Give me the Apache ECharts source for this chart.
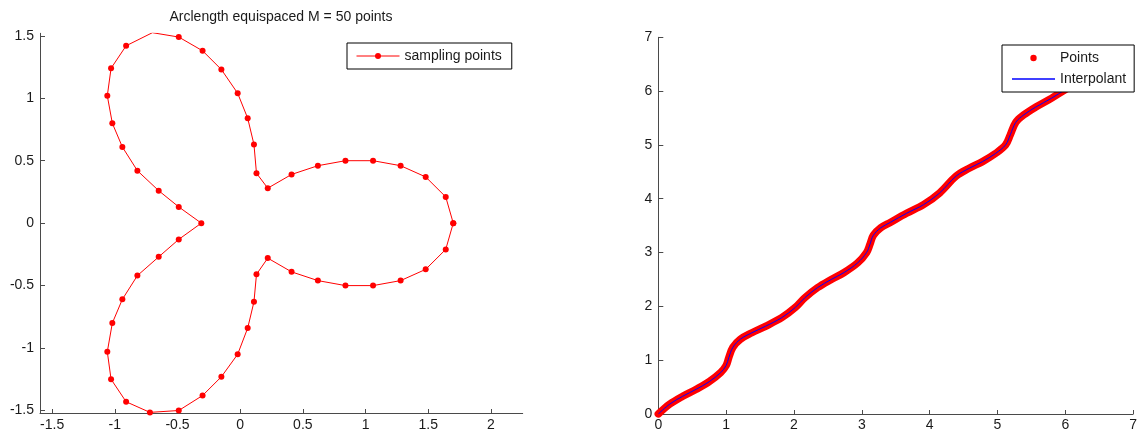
<!DOCTYPE html>
<html>
<head>
<meta charset="utf-8">
<style>
  html, body { margin: 0; padding: 0; background: #fff; }
  #chart { width: 1140px; height: 432px; }
</style>
<script src="https://cdn.jsdelivr.net/npm/echarts@6/dist/echarts.min.js"></script>
</head>
<body>
<div id="chart"></div>
<script>
// Trefoil curve sampled at 50 arclength-equispaced points (last entry closes the loop)
const curveX = [1.70, 1.64, 1.48, 1.28, 1.06, 0.84, 0.62, 0.41, 0.22, 0.13,
                0.11, 0.06, -0.02, -0.15, -0.30, -0.49, -0.70, -0.91, -1.03, -1.06,
                -1.02, -0.94, -0.82, -0.65, -0.49, -0.31, -0.49, -0.65, -0.82, -0.94,
                -1.02, -1.06, -1.03, -0.91, -0.72, -0.49, -0.30, -0.15, -0.02, 0.06,
                0.11, 0.13, 0.22, 0.41, 0.62, 0.84, 1.06, 1.28, 1.48, 1.64, 1.70];
const curveY = [0.00, 0.21, 0.37, 0.46, 0.50, 0.50, 0.46, 0.39, 0.28, 0.40,
                0.63, 0.84, 1.04, 1.23, 1.38, 1.49, 1.525, 1.42, 1.24, 1.02,
                0.80, 0.61, 0.42, 0.26, 0.13, 0.00, -0.13, -0.27, -0.42, -0.61,
                -0.80, -1.03, -1.25, -1.43, -1.515, -1.50, -1.38, -1.23, -1.05, -0.84,
                -0.63, -0.41, -0.28, -0.39, -0.46, -0.50, -0.50, -0.46, -0.37, -0.21, 0.00];

// Parameter versus normalised arclength
const paramS = [0.00, 0.17, 0.36, 0.56, 0.75, 0.92, 1.00, 1.04, 1.10, 1.21,
                1.38, 1.58, 1.82, 2.02, 2.16, 2.35, 2.55, 2.74, 2.94, 3.07,
                3.12, 3.17, 3.28, 3.42, 3.66, 3.91, 4.15, 4.39, 4.59, 4.78,
                4.97, 5.12, 5.19, 5.27, 5.39, 5.56, 5.80, 5.99, 6.14, 6.28];
const paramT = [0.00, 0.185, 0.33, 0.46, 0.60, 0.77, 0.90, 1.05, 1.24, 1.39,
                1.51, 1.63, 1.79, 1.98, 2.16, 2.35, 2.50, 2.63, 2.81, 3.00,
                3.15, 3.32, 3.46, 3.56, 3.73, 3.89, 4.11, 4.42, 4.57, 4.69,
                4.84, 5.00, 5.19, 5.42, 5.56, 5.70, 5.87, 6.02, 6.13, 6.28];

// Tick labels
const leftXTicks = [-1.5, -1, -0.5, 0, 0.5, 1, 1.5, 2];
const leftYTicks = [-1.5, -1, -0.5, 0, 0.5, 1, 1.5];
const rightTicks = [0, 1, 2, 3, 4, 5, 6, 7];

const titleText = 'Arclength equispaced M = 50 points';
const seriesNames = ['sampling points', 'Points', 'Interpolant'];

const FONT = "'Liberation Sans', Arial, Helvetica, sans-serif";
const AXIS_COLOR = '#4a4a4a';
const TEXT_COLOR = '#1a1a1a';

function pairs(xs, ys) {
  return xs.map((x, i) => [x, ys[i]]);
}

function axis(grid, min, max, ticks, tickLen, labelMargin) {
  return {
    type: 'value',
    gridIndex: grid,
    min: min,
    max: max,
    splitLine: { show: false },
    axisLine: { show: true, onZero: false, lineStyle: { color: AXIS_COLOR, width: 1 } },
    axisTick: { show: true, inside: true, length: tickLen, customValues: ticks,
                lineStyle: { color: AXIS_COLOR, width: 1 } },
    axisLabel: { show: true, customValues: ticks, margin: labelMargin,
                 color: TEXT_COLOR, fontSize: 14, fontFamily: FONT,
                 showMinLabel: true, showMaxLabel: true },
    axisPointer: { show: false }
  };
}

const legendBase = {
  orient: 'vertical',
  itemWidth: 43,
  itemGap: 7,
  backgroundColor: '#ffffff',
  borderColor: '#000000',
  borderWidth: 1,
  borderRadius: 0,
  textStyle: { fontSize: 14, color: TEXT_COLOR, fontFamily: FONT },
  selectedMode: false
};

const chart = echarts.init(document.getElementById('chart'), null, { renderer: 'canvas' });

chart.setOption({
  animation: false,
  backgroundColor: '#ffffff',
  textStyle: { fontFamily: FONT },
  title: {
    text: titleText,
    left: 281,
    top: 10,
    padding: 0,
    textAlign: 'center',
    textStyle: { fontSize: 14, fontWeight: 'normal', color: TEXT_COLOR, fontFamily: FONT }
  },
  grid: [
    { left: 40, right: 617.3, top: 33.3, bottom: 18.3, containLabel: false },
    { left: 658.3, right: 1, top: 37.3, bottom: 17, containLabel: false }
  ],
  xAxis: [
    axis(0, -1.597, 2.254, leftXTicks, 4, 5),
    axis(1, 0, 7, rightTicks, 4, 4)
  ],
  yAxis: [
    axis(0, -1.52, 1.52, leftYTicks, 5, 6),
    axis(1, 0, 7, rightTicks, 5, 6)
  ],
  legend: [
    Object.assign({}, legendBase, {
      data: [{ name: seriesNames[0], lineStyle: { width: 1 } }],
      left: 347,
      top: 43,
      padding: [6, 10, 6, 9],
      itemHeight: 7.5
    }),
    Object.assign({}, legendBase, {
      data: [
        { name: seriesNames[1], lineStyle: { opacity: 0 } },
        { name: seriesNames[2], lineStyle: { width: 1.3, color: '#0000ff' },
          itemStyle: { color: 'rgba(0,0,0,0)' } }
      ],
      left: 1002,
      top: 45,
      padding: [6, 8, 6, 9],
      itemHeight: 8
    })
  ],
  series: [
    {
      name: seriesNames[0],
      type: 'line',
      xAxisIndex: 0,
      yAxisIndex: 0,
      data: pairs(curveX, curveY),
      symbol: 'circle',
      symbolSize: 6,
      showAllSymbol: true,
      clip: true,
      itemStyle: { color: '#ff0000' },
      lineStyle: { color: '#ff0000', width: 1 },
      emphasis: { disabled: true }
    },
    {
      name: seriesNames[1],
      type: 'line',
      xAxisIndex: 1,
      yAxisIndex: 1,
      data: pairs(paramS, paramT),
      smooth: 0.35,
      symbol: 'none',
      itemStyle: { color: '#ff0000' },
      lineStyle: { color: '#ff0000', width: 7.5, cap: 'round', join: 'round' },
      emphasis: { disabled: true }
    },
    {
      name: seriesNames[2],
      type: 'line',
      xAxisIndex: 1,
      yAxisIndex: 1,
      data: pairs(paramS, paramT),
      smooth: 0.35,
      symbol: 'none',
      itemStyle: { color: '#0000ff' },
      lineStyle: { color: '#0000ff', width: 1 },
      emphasis: { disabled: true }
    }
  ]
});
</script>
</body>
</html>
